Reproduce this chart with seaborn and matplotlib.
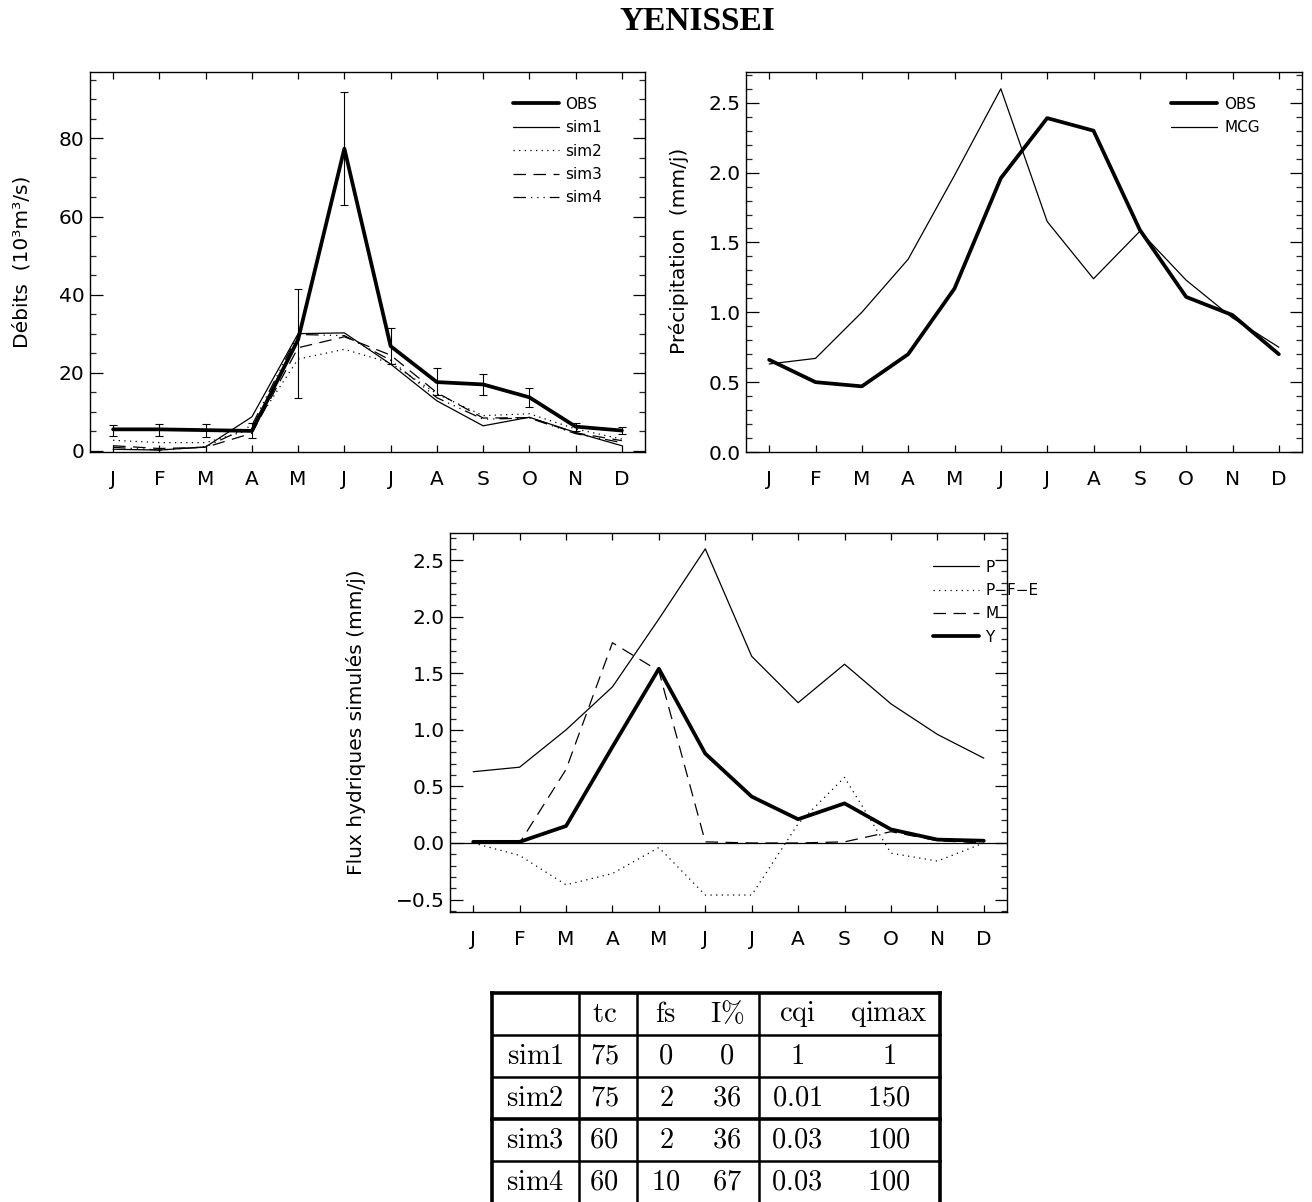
import numpy as np
import matplotlib
matplotlib.use("Agg")
import matplotlib.pyplot as plt
from matplotlib.ticker import MultipleLocator, FuncFormatter
import seaborn as sns

# ---------------- data ----------------
month_labels = ["J", "F", "M", "A", "M", "J", "J", "A", "S", "O", "N", "D"]
month_idx = np.arange(12)

# River discharge (10^3 m^3/s)
debit_obs = [5.5, 5.5, 5.3, 5.1, 28.5, 77.4, 26.8, 17.6, 17.0, 13.7, 6.2, 5.2]
debit_obs_low = [3.8, 3.8, 3.6, 3.4, 13.5, 63.0, 22.2, 14.2, 14.4, 11.2, 5.2, 4.2]
debit_obs_high = [6.6, 6.8, 6.8, 7.1, 41.5, 92.0, 31.5, 21.1, 19.6, 16.2, 7.2, 6.0]
debit_sim1 = [0.4, 0.2, 1.0, 8.7, 30.0, 30.2, 22.2, 12.8, 6.4, 8.6, 4.7, 1.3]
debit_sim2 = [2.7, 2.1, 2.1, 5.5, 23.5, 26.0, 22.5, 14.6, 9.0, 9.5, 5.6, 3.0]
debit_sim3 = [1.3, 0.6, 0.9, 4.5, 26.4, 29.2, 24.5, 14.9, 8.4, 8.5, 4.6, 2.6]
debit_sim4 = [0.9, 0.2, 1.0, 6.5, 29.8, 29.5, 23.2, 13.6, 8.1, 8.4, 4.4, 2.1]

# Precipitation (mm/j)
precip_obs = [0.66, 0.50, 0.47, 0.70, 1.17, 1.96, 2.39, 2.30, 1.59, 1.11, 0.98, 0.70]
precip_mcg = [0.63, 0.67, 1.00, 1.38, 1.98, 2.60, 1.65, 1.24, 1.58, 1.23, 0.96, 0.75]

# Simulated water fluxes (mm/j); P is the MCG precipitation
flux_pfe = [0.0, -0.11, -0.37, -0.27, -0.04, -0.46, -0.46, 0.17, 0.58, -0.09, -0.16, 0.0]
flux_m = [0.0, 0.0, 0.65, 1.77, 1.52, 0.01, 0.0, 0.0, 0.01, 0.10, 0.02, 0.0]
flux_y = [0.01, 0.01, 0.15, 0.85, 1.54, 0.79, 0.41, 0.21, 0.35, 0.12, 0.03, 0.02]

# Parameter table
table_header = ["tc", "fs", "I%", "cqi", "qimax"]
table_rows = ["sim1", "sim2", "sim3", "sim4"]
param_tc = ["75", "75", "60", "60"]
param_fs = ["0", "2", "2", "10"]
param_ipct = ["0", "36", "36", "67"]
param_cqi = ["1", "0.01", "0.03", "0.03"]
param_qimax = ["1", "150", "100", "100"]

# ---------------- style ----------------
sns.set_theme(style="ticks")
plt.rcParams["font.family"] = ["DejaVu Sans"]
plt.rcParams["mathtext.fontset"] = "cm"
plt.rcParams["axes.linewidth"] = 1.0
plt.rcParams["axes.edgecolor"] = "black"
plt.rcParams["text.color"] = "black"

W, H = 1312, 1202
fig = plt.figure(figsize=(W / 100, H / 100), dpi=100)
fig.patch.set_facecolor("white")

THICK = 2.7
THIN = 0.9
LBL = 14.5
TICKLBL = 14.5
LEGFS = 11

ls_dot = (0, (1, 3.5))
ls_dash = (0, (10, 6))
ls_dash3dot = (0, (10, 4, 1, 4, 1, 4, 1, 4))


def px_axes(left, top, right, bottom):
    return fig.add_axes([left / W, 1 - bottom / H, (right - left) / W, (bottom - top) / H])


def style_axes(ax, ymajor, yminor, ylim, fmt):
    ax.set_xlim(-0.5, 11.5)
    ax.set_ylim(*ylim)
    ax.set_xticks(month_idx)
    ax.set_xticklabels(month_labels)
    ax.yaxis.set_major_locator(MultipleLocator(ymajor))
    ax.yaxis.set_minor_locator(MultipleLocator(yminor))
    ax.yaxis.set_major_formatter(FuncFormatter(fmt))
    ax.tick_params(axis="y", which="major", direction="in", length=9, width=0.9,
                   left=True, right=True, labelsize=TICKLBL, pad=4, colors="black")
    ax.tick_params(axis="y", which="minor", direction="in", length=4.5, width=0.9,
                   left=True, right=True)
    ax.tick_params(axis="x", which="major", direction="in", length=5, width=0.9,
                   bottom=True, top=True, labelsize=TICKLBL, pad=13, colors="black")
    ax.tick_params(axis="x", which="minor", bottom=False, top=False)
    for s in ax.spines.values():
        s.set_visible(True)
        s.set_color("black")
        s.set_linewidth(1.0)
    ax.set_facecolor("white")
    ax.grid(False)


def fmt_int(v, pos):
    return f"{v:.0f}"


def fmt_1(v, pos):
    return f"{v:.1f}".replace("-", "\u2212")


def add_legend(ax, x, y, pad):
    ax.legend(loc="upper left", bbox_to_anchor=(x, y), frameon=False,
              fontsize=LEGFS, handlelength=3.0, handletextpad=pad, labelspacing=0.55,
              borderpad=0, borderaxespad=0, labelcolor="black")


# ---------------- panel 1: discharge ----------------
ax1 = px_axes(90, 72, 645, 452)
ax1.errorbar(month_idx, debit_obs,
             yerr=[np.array(debit_obs) - np.array(debit_obs_low),
                   np.array(debit_obs_high) - np.array(debit_obs)],
             fmt="none", ecolor="black", elinewidth=0.8, capsize=3, capthick=0.8, zorder=3)
sns.lineplot(x=month_idx, y=debit_obs, ax=ax1, color="black", lw=THICK, label="OBS")
sns.lineplot(x=month_idx, y=debit_sim1, ax=ax1, color="black", lw=THIN, label="sim1")
sns.lineplot(x=month_idx, y=debit_sim2, ax=ax1, color="black", lw=THIN, linestyle=ls_dot, label="sim2")
sns.lineplot(x=month_idx, y=debit_sim3, ax=ax1, color="black", lw=THIN, linestyle=ls_dash, label="sim3")
sns.lineplot(x=month_idx, y=debit_sim4, ax=ax1, color="black", lw=THIN, linestyle=ls_dash3dot, label="sim4")
style_axes(ax1, 20, 5, (-0.3, 97), fmt_int)
ax1.set_xlabel("")
ax1.set_ylabel("Débits  (10³m³/s)", fontsize=LBL, color="black")
ax1.yaxis.set_label_coords(-0.106, 0.5)
add_legend(ax1, 0.762, 0.935, 0.4)

# ---------------- panel 2: precipitation ----------------
ax2 = px_axes(746, 72, 1302, 452)
sns.lineplot(x=month_idx, y=precip_obs, ax=ax2, color="black", lw=THICK, label="OBS")
sns.lineplot(x=month_idx, y=precip_mcg, ax=ax2, color="black", lw=THIN, label="MCG")
style_axes(ax2, 0.5, 0.1, (0, 2.72), fmt_1)
ax2.set_xlabel("")
ax2.set_ylabel("Précipitation  (mm/j)", fontsize=LBL, color="black")
ax2.yaxis.set_label_coords(-0.103, 0.53)
add_legend(ax2, 0.765, 0.935, 0.45)

# ---------------- panel 3: simulated fluxes ----------------
ax3 = px_axes(450, 533, 1007, 912)
ax3.axhline(0, color="black", lw=0.9, zorder=1)
sns.lineplot(x=month_idx, y=precip_mcg, ax=ax3, color="black", lw=THIN, label="P")
sns.lineplot(x=month_idx, y=flux_pfe, ax=ax3, color="black", lw=THIN, linestyle=ls_dot, label="P\u2212F\u2212E")
sns.lineplot(x=month_idx, y=flux_m, ax=ax3, color="black", lw=THIN, linestyle=ls_dash, label="M")
sns.lineplot(x=month_idx, y=flux_y, ax=ax3, color="black", lw=THICK, label="Y")
style_axes(ax3, 0.5, 0.1, (-0.61, 2.74), fmt_1)
ax3.set_xlabel("")
ax3.set_ylabel("Flux hydriques simulés (mm/j)", fontsize=LBL, color="black")
ax3.yaxis.set_label_coords(-0.151, 0.5)
add_legend(ax3, 0.868, 0.93, 0.4)

# ---------------- parameter table ----------------
tx0, tx1, ty0, ty1 = 492, 940, 993, 1202
axt = px_axes(tx0, ty0, tx1, ty1)
axt.set_xlim(tx0, tx1)
axt.set_ylim(ty1, ty0)
axt.axis("off")

col_edges = [492, 579, 637, 759, 940]
row_edges = [993, 1035, 1077, 1119, 1161, 1203]
text_x = [535, 604, 666, 727, 797, 889]

for xe in col_edges:
    lw = 2.6 if xe in (col_edges[0], col_edges[-1]) else 1.8
    axt.plot([xe, xe], [row_edges[0], row_edges[-1]], color="black", lw=lw, clip_on=False,
             solid_capstyle="projecting")
for i, ye in enumerate(row_edges):
    lw = 2.6 if i in (0, 3) else 1.8
    axt.plot([col_edges[0], col_edges[-1]], [ye, ye], color="black", lw=lw, clip_on=False,
             solid_capstyle="projecting")


def tex(s):
    return r"$\mathrm{" + s.replace("%", r"\%") + "}$"


TFS = 20.5
for j, h in enumerate(table_header):
    axt.text(text_x[j + 1], (row_edges[0] + row_edges[1]) / 2, tex(h), ha="center",
             va="center", fontsize=TFS, color="black")
columns = [param_tc, param_fs, param_ipct, param_cqi, param_qimax]
for i, r in enumerate(table_rows):
    yc = (row_edges[i + 1] + row_edges[i + 2]) / 2
    axt.text(text_x[0], yc, tex(r), ha="center", va="center", fontsize=TFS, color="black")
    for j, col in enumerate(columns):
        axt.text(text_x[j + 1], yc, tex(col[i]), ha="center", va="center",
                 fontsize=TFS, color="black")

# ---------------- title ----------------
fig.text(697 / W, 1 - 21 / H, "YENISSEI", ha="center", va="center", color="black",
         fontsize=24, fontweight="bold", family=["Liberation Serif", "DejaVu Serif"])

fig.savefig("out.png", dpi=100, facecolor="white")
